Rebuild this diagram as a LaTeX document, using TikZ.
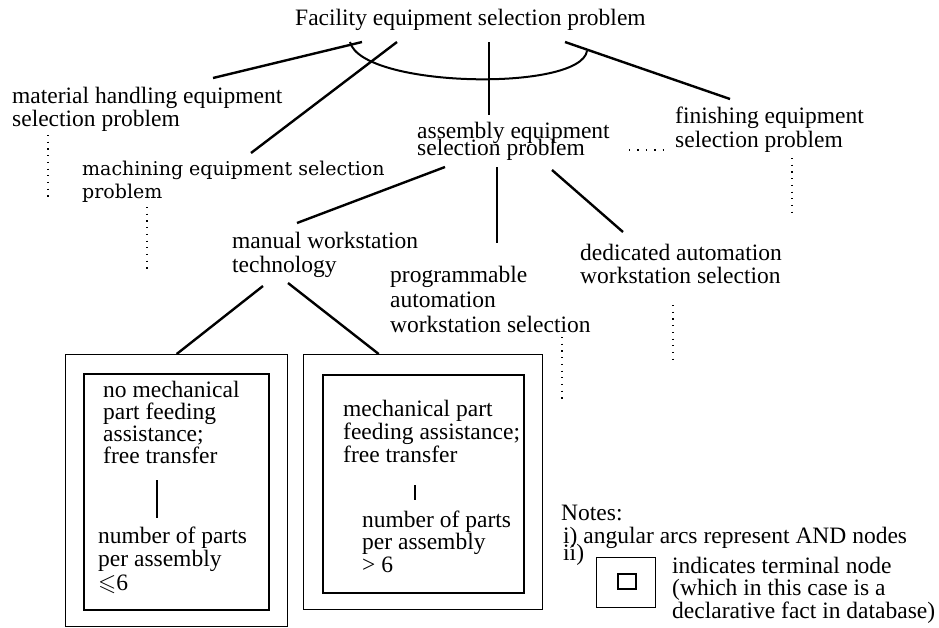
\documentclass[tikz,border=0pt]{standalone}
\usepackage{amssymb}
\usepackage{fontspec}
\setmainfont{Liberation Serif}
\newfontfamily\machfont{DejaVu Serif}
\newcommand\tightls{\lineskiplimit=-50pt\relax}
\begin{document}
\begin{tikzpicture}[x=1pt,y=-1pt,
  lbl/.style={inner sep=0pt, anchor=base west, align=left, font=\fontsize{23.5}{23}\selectfont\tightls},
  conn/.style={line width=2.4pt},
  thinconn/.style={line width=1.5pt},
  dotline/.style={line width=1.3pt, dash pattern=on 1.2pt off 5.5pt},
  boxo/.style={draw, line width=1.4pt, inner sep=0pt, anchor=north west},
  boxi/.style={draw, line width=2pt, inner sep=0pt, anchor=north west}]
\useasboundingbox (0,0) rectangle (939,627);

% (multi-line labels are anchored at the baseline of their last line)
% top-level
\node[lbl] (title) at (295,25) {Facility equipment selection problem};
\node[lbl] (mh) at (12,126) {material handling equipment\\selection problem};
\node[lbl, font=\machfont\fontsize{19}{23}\selectfont\tightls] (mach) at (82,198) {machining equipment selection\\problem};
\node[lbl, font=\fontsize{23.5}{17}\selectfont\tightls] (asm) at (417,155) {assembly equipment\\selection problem};
\node[lbl, font=\fontsize{23.5}{24}\selectfont\tightls] (fin) at (675,147) {finishing equipment\\selection problem};

% second level
\node[lbl, font=\fontsize{23.5}{24}\selectfont\tightls] (man) at (232,272) {manual workstation\\technology};
\node[lbl, font=\fontsize{23.5}{25}\selectfont\tightls] (prog) at (390,332) {programmable\\automation\\workstation selection};
\node[lbl] (ded) at (580,283) {dedicated automation\\workstation selection};

% terminal boxes
\node[boxo, minimum width=222pt, minimum height=272pt] (b1o) at (65,354) {};
\node[boxi, minimum width=185pt, minimum height=236pt] (b1i) at (83,373) {};
\node[boxo, minimum width=239pt, minimum height=255pt] (b2o) at (303,354) {};
\node[boxi, minimum width=201pt, minimum height=218pt] (b2i) at (322,374) {};

\node[lbl, font=\fontsize{23.5}{22}\selectfont\tightls] (b1a) at (103,463) {no mechanical\\part feeding\\assistance;\\free transfer};
\node[lbl, font=\fontsize{23.5}{23.5}\selectfont\tightls] (b1b) at (98,590) {number of parts\\per assembly\\$\leqslant$6};
\node[lbl] (b2a) at (343,462) {mechanical part\\feeding assistance;\\free transfer};
\node[lbl, font=\fontsize{23.5}{22.5}\selectfont\tightls] (b2b) at (362,572) {number of parts\\per assembly\\> 6};

% notes
\node[lbl] (notes) at (561,520) {Notes:};
\node[lbl] (note1) at (563,543) {i) angular arcs represent AND nodes};
\node[lbl] (note2) at (563,560) {ii)};
\node[boxo, minimum width=59pt, minimum height=50pt] (lego) at (596,557) {};
\node[boxi, minimum width=18pt, minimum height=15pt] (legi) at (617,573) {};
\node[lbl, font=\fontsize{23.5}{22.5}\selectfont\tightls] (note3) at (672,618) {indicates terminal node\\(which in this case is a\\declarative fact in database)};

% connectors from the title
\coordinate (tA) at (362,42);
\coordinate (tB) at (397,42);
\coordinate (tC) at (489,42);
\coordinate (tD) at (565,42);
\coordinate (mhT) at (213,78);
\coordinate (machT) at (251,153);
\coordinate (asmT) at (489,115);
\coordinate (finT) at (730,99);
\draw[conn] (tA) -- (mhT);
\draw[conn] (tB) -- (machT);
\draw[thinconn] (tC) -- (asmT);
\draw[conn] (tD) -- (finT);
\coordinate (arcL) at (350,42);
\coordinate (arcR) at (587,51);
\draw[line width=2pt] (arcL) .. controls (362,88) and (580,92) .. (arcR);

% connectors from assembly
\coordinate (aA) at (445,167);
\coordinate (aB) at (497,167);
\coordinate (aC) at (552,170);
\coordinate (manT) at (297,223);
\coordinate (progT) at (497,243);
\coordinate (dedT) at (623,232);
\draw[conn] (aA) -- (manT);
\draw[thinconn] (aB) -- (progT);
\draw[conn] (aC) -- (dedT);

% connectors from manual
\coordinate (mA) at (263,286);
\coordinate (mB) at (288,283);
\draw[conn] (mA) -- (b1o.north);
\draw[conn] (mB) -- ([xshift=-44.5pt]b2o.north);

% links inside the boxes
\coordinate (b1l1) at (157,480);
\coordinate (b1l2) at (157,518);
\coordinate (b2l1) at (415,485);
\coordinate (b2l2) at (415,500);
\draw[conn] (b1l1) -- (b1l2);
\draw[conn] (b2l1) -- (b2l2);

% dotted continuations
\coordinate (d1a) at (48,135);  \coordinate (d1b) at (48,198);
\coordinate (d2a) at (147,207); \coordinate (d2b) at (147,271);
\coordinate (d3a) at (792,158); \coordinate (d3b) at (792,214);
\coordinate (d4a) at (562,337); \coordinate (d4b) at (562,399);
\coordinate (d5a) at (673,305); \coordinate (d5b) at (673,363);
\coordinate (d6a) at (629,150); \coordinate (d6b) at (668,150);
\draw[dotline] (d1a) -- (d1b);
\draw[dotline] (d2a) -- (d2b);
\draw[dotline] (d3a) -- (d3b);
\draw[dotline] (d4a) -- (d4b);
\draw[dotline] (d5a) -- (d5b);
\draw[line width=1.6pt, dash pattern=on 1.4pt off 7pt] (d6a) -- (d6b);
\end{tikzpicture}
\end{document}
